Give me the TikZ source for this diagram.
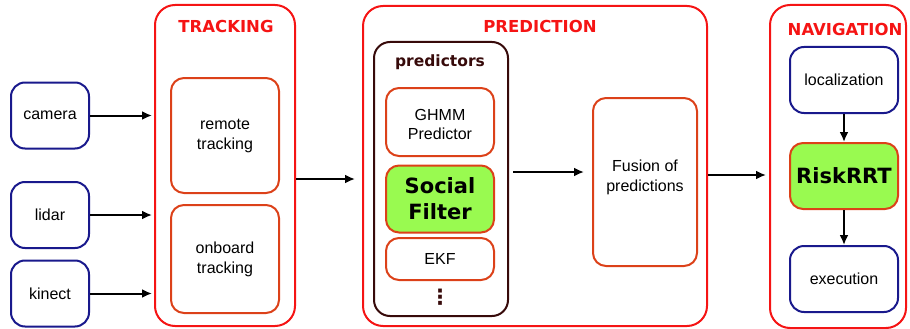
\documentclass[tikz,border=0pt]{standalone}
\usepackage{fontspec}
\setmainfont{Liberation Sans}
\newfontfamily\boldfont{DejaVu Sans}[BoldFont=* Bold]
\usetikzlibrary{arrows.meta}
\definecolor{outred}{RGB}{245,20,20}
\definecolor{inred}{RGB}{220,65,25}
\definecolor{sblue}{RGB}{25,25,140}
\definecolor{fgreen}{RGB}{153,250,80}
\definecolor{maroon}{RGB}{55,10,10}
\tikzset{
  base/.style={rectangle, line width=2pt, align=center, inner sep=0pt,
    font=\fontsize{16}{19}\selectfont},
  sensor/.style={base, draw=sblue, rounded corners=14pt, minimum width=78pt, minimum height=66pt},
  outer/.style={base, draw=outred, rounded corners=20pt},
  inner/.style={base, draw=inred, rounded corners=13pt, minimum width=108pt},
  hl/.style={inner, fill=fgreen, font=\boldfont\bfseries\fontsize{21}{24}\selectfont},
  title/.style={font=\boldfont\bfseries\fontsize{16.5}{18}\selectfont, text=outred, inner sep=0pt},
  label/.style={align=center, inner sep=0pt, font=\fontsize{16}{19}\selectfont},
  arr/.style={line width=2pt, -{Latex[length=10pt,width=9pt]}}
}
\begin{document}
\begin{tikzpicture}[x=1pt,y=-1pt]
\useasboundingbox (0,0) rectangle (910,329);
% outer groups
\node[outer, minimum width=140pt, minimum height=321pt] (tracking) at (225,165.5) {};
\node[outer, minimum width=344pt, minimum height=320pt] (prediction) at (535,166) {};
\node[outer, minimum width=136pt, minimum height=323pt] (navigation) at (838,166.5) {};
\node[title] (ttrack) at (226,26) {TRACKING};
\node[title] (tpred) at (540,26) {PREDICTION};
\node[title] (tnav) at (845,29) {NAVIGATION};
% sensors
\node[sensor] (camera) at (50,115.5) {camera};
\node[sensor] (lidar) at (50,215) {lidar};
\node[sensor] (kinect) at (50,293.5) {kinect};
% tracking
\node[inner, minimum height=115pt] (remote) at (225,135.5) {remote\\[1pt]tracking};
\node[inner, minimum height=108pt] (onboard) at (225,259) {onboard\\[1pt]tracking};
% predictors
\node[base, draw=maroon, rounded corners=16pt, minimum width=134pt, minimum height=274pt] (predictors) at (441,179) {};
\node[font=\boldfont\bfseries\fontsize{15.5}{18}\selectfont, text=maroon, inner sep=0pt] (tpredictors) at (440,62) {predictors};
\node[inner, minimum height=68pt] (ghmm) at (440,122) {};
\node[label] (ghmmtext) at (440,124) {GHMM\\[0pt]Predictor};
\node[hl, minimum height=67pt] (social) at (440,199) {Social\\[2pt]Filter};
\node[inner, minimum height=42pt] (ekf) at (440,259) {EKF};
\node[font=\boldfont\bfseries\fontsize{21}{22}\selectfont, text=maroon, inner sep=0pt] (dots) at (440,297) {⋮};
\node[inner, minimum width=104pt, minimum height=168pt] (fusion) at (645,182) {};
\node[label] (fusiontext) at (645,177) {Fusion of\\[1pt]predictions};
% navigation
\node[sensor, minimum width=108pt] (loc) at (844,80) {localization};
\node[hl, minimum height=66pt] (risk) at (844,176) {RiskRRT};
\node[sensor, minimum width=108pt] (exec) at (844,279) {execution};
% arrows
\draw[arr, shorten >=2pt] (camera.east) -- (tracking.west |- camera.east);
\draw[arr, shorten >=2pt] (lidar.east) -- (tracking.west |- lidar.east);
\draw[arr, shorten >=2pt] (kinect.east) -- (tracking.west |- kinect.east);
\coordinate (m1) at (0,179);
\coordinate (m2) at (0,172);
\coordinate (m3) at (0,175);
\draw[arr, shorten >=7pt] (tracking.east |- m1) -- (prediction.west |- m1);
\draw[arr, shorten <=4pt, shorten >=8pt] (predictors.east |- m2) -- (fusion.west |- m2);
\draw[arr, shorten >=3pt] (prediction.east |- m3) -- (navigation.west |- m3);
\draw[arr] (loc.south) -- (risk.north);
\draw[arr] (risk.south) -- (exec.north);
\end{tikzpicture}
\end{document}
